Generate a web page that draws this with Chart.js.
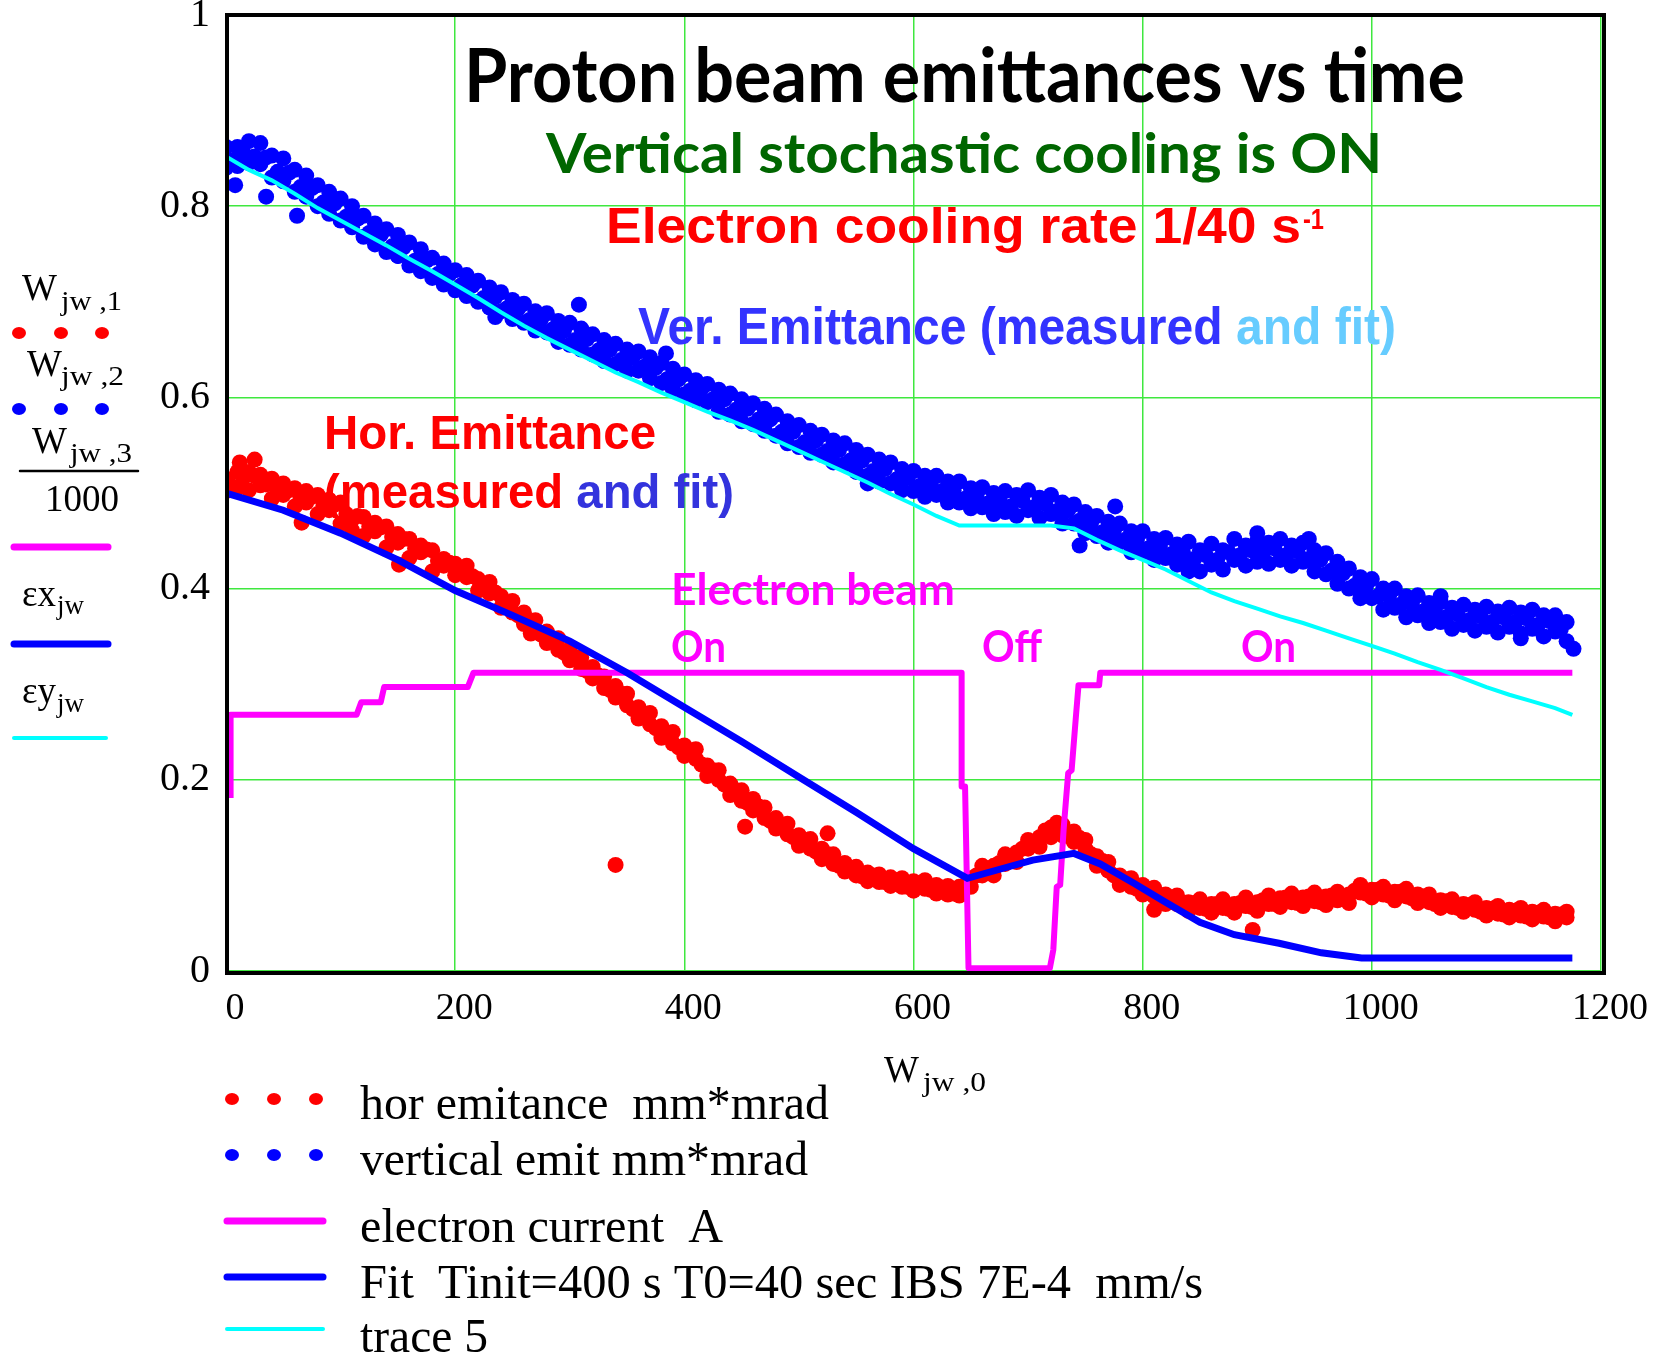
<!DOCTYPE html>
<html>
<head>
<meta charset="utf-8">
<title>Proton beam emittances vs time</title>
<script src="https://cdn.jsdelivr.net/npm/chart.js@4.4.1/dist/chart.umd.min.js"></script>
<style>
    html, body { margin: 0; padding: 0; background: #ffffff; }
    canvas { display: block; }
</style>
</head>
<body>
<canvas id="emittanceChart" width="1655" height="1356"></canvas>
<script>
// ======== Data (time in s, emittance in mm*mrad, current in A/1000) ========
const sampleTimes = [
    0, 10, 20, 30, 40, 50, 60, 70, 80, 90, 100, 110, 120, 130, 140, 150, 160, 170, 180, 190,
    200, 210, 220, 230, 240, 250, 260, 270, 280, 290, 300, 310, 320, 330, 340, 350, 360, 370, 380, 390,
    400, 410, 420, 430, 440, 450, 460, 470, 480, 490, 500, 510, 520, 530, 540, 550, 560, 570, 580, 590,
    600, 610, 620, 630, 640, 650, 660, 670, 680, 690, 700, 710, 720, 730, 740, 750, 760, 770, 780, 790,
    800, 810, 820, 830, 840, 850, 860, 870, 880, 890, 900, 910, 920, 930, 940, 950, 960, 970, 980, 990,
    1000, 1010, 1020, 1030, 1040, 1050, 1060, 1070, 1080, 1090, 1100, 1110, 1120, 1130, 1140, 1150, 1160, 1170
];
const midTimes = [
    5, 15, 25, 35, 45, 55, 65, 75, 85, 95, 105, 115, 125, 135, 145, 155, 165, 175, 185, 195,
    205, 215, 225, 235, 245, 255, 265, 275, 285, 295, 305, 315, 325, 335, 345, 355, 365, 375, 385, 395,
    405, 415, 425, 435, 445, 455, 465, 475, 485, 495, 505, 515, 525, 535, 545, 555, 565, 575, 585, 595,
    605, 615, 625, 635, 645, 655, 665, 675, 685, 695, 705, 715, 725, 735, 745, 755, 765, 775, 785, 795,
    805, 815, 825, 835, 845, 855, 865, 875, 885, 895, 905, 915, 925, 935, 945, 955, 965, 975, 985, 995,
    1005, 1015, 1025, 1035, 1045, 1055, 1065, 1075, 1085, 1095, 1105, 1115, 1125, 1135, 1145, 1155, 1165
];

// horizontal emittance, measured (two readings per sample time plus in-between readings)
const horEmit = [
    .515, .505, .522, .508, .515, .498, .505, .490, .498, .482, .490, .472, .475, .460, .465, .448, .452, .438, .440, .424,
    .426, .412, .410, .395, .392, .375, .375, .355, .355, .336, .337, .316, .318, .296, .298, .278, .276, .258, .256, .238,
    .236, .222, .215, .200, .196, .178, .180, .160, .160, .143, .142, .128, .128, .112, .113, .100, .103, .093, .098, .088,
    .094, .086, .090, .080, .088, .097, .100, .110, .112, .124, .128, .140, .150, .142, .146, .128, .120, .105, .100, .088,
    .090, .078, .080, .070, .072, .066, .070, .066, .070, .068, .072, .070, .076, .072, .077, .073, .078, .074, .080, .082,
    .085, .080, .083, .078, .080, .072, .074, .067, .070, .064, .066, .060, .064, .058, .062, .057, .060, .056
];
const horEmitSpread = [
    .502, .522, .503, .519, .494, .510, .486, .502, .478, .493, .468, .461, .455, .469, .443, .457, .432, .445, .418, .431,
    .414, .424, .398, .407, .380, .387, .363, .367, .343, .348, .325, .328, .306, .308, .286, .290, .264, .270, .244, .250,
    .225, .232, .204, .210, .184, .189, .168, .171, .149, .154, .131, .138, .117, .122, .104, .109, .094, .101, .089, .097,
    .084, .095, .081, .089, .079, .088, .110, .100, .122, .114, .137, .130, .140, .153, .135, .137, .110, .114, .090, .097,
    .080, .087, .070, .079, .063, .075, .061, .075, .061, .077, .063, .079, .067, .081, .068, .082, .069, .083, .071, .090,
    .077, .088, .074, .086, .071, .080, .066, .075, .062, .072, .058, .068, .056, .066, .054, .064, .052, .062
];
const horEmitMid = [
    .507, .516, .518, .509, .504, .503, .495, .496, .487, .488, .478, .476, .465, .464, .454, .452, .442, .441, .429, .427,
    .416, .413, .400, .396, .381, .372, .366, .352, .347, .333, .328, .314, .309, .294, .290, .274, .269, .254, .249, .234,
    .231, .216, .210, .195, .189, .176, .172, .157, .153, .140, .137, .125, .122, .110, .108, .099, .100, .093, .095, .088,
    .092, .085, .087, .081, .090, .100, .103, .113, .116, .128, .132, .147, .155, .141, .139, .122, .115, .100, .096, .086,
    .086, .076, .077, .068, .071, .065, .070, .065, .071, .067, .074, .070, .077, .071, .078, .072, .079, .075, .084, .081,
    .085, .079, .083, .076, .078, .070, .073, .066, .069, .062, .065, .059, .063, .057, .061, .056, .059
];
const horOutlierTimes = [12, 25, 66, 151, 266, 340, 453, 525, 810, 896];
const horOutliers = [.532, .535, .469, .425, .353, .111, .151, .144, .064, .043];

// vertical emittance, measured
const verEmit = [
    .840, .862, .845, .866, .830, .850, .815, .832, .800, .815, .785, .800, .768, .782, .752, .770, .738, .755, .725, .740,
    .712, .728, .700, .715, .690, .702, .678, .690, .668, .680, .655, .672, .645, .660, .635, .650, .628, .642, .615, .630,
    .603, .618, .595, .608, .582, .598, .572, .588, .560, .575, .548, .565, .540, .555, .530, .545, .518, .535, .510, .525,
    .502, .518, .498, .512, .490, .505, .485, .500, .480, .498, .482, .495, .478, .490, .468, .480, .455, .470, .448, .460,
    .438, .452, .432, .446, .428, .440, .425, .440, .430, .445, .428, .448, .430, .445, .428, .440, .415, .428, .400, .412,
    .390, .400, .380, .392, .372, .385, .365, .380, .362, .378, .360, .376, .360, .375, .358, .372, .355, .365
];
const verEmitSpread = [
    .862, .842, .868, .844, .853, .826, .838, .810, .822, .792, .808, .778, .790, .760, .776, .748, .762, .732, .746, .718,
    .733, .706, .722, .694, .710, .682, .698, .670, .688, .658, .678, .650, .666, .638, .656, .628, .648, .620, .636, .608,
    .624, .597, .614, .585, .604, .575, .594, .565, .582, .552, .571, .542, .561, .532, .552, .522, .540, .512, .532, .503,
    .523, .496, .518, .490, .512, .484, .506, .478, .502, .476, .503, .474, .498, .468, .488, .458, .476, .448, .468, .438,
    .460, .430, .453, .425, .449, .418, .447, .420, .452, .424, .450, .426, .452, .424, .448, .418, .437, .405, .421, .390,
    .410, .378, .400, .370, .393, .364, .386, .358, .383, .356, .381, .354, .380, .353, .378, .350, .372, .345
];
const verEmitMid = [
    .848, .856, .852, .851, .836, .835, .820, .819, .804, .803, .789, .787, .772, .770, .758, .757, .743, .743, .729, .729,
    .717, .717, .704, .705, .693, .693, .681, .682, .671, .670, .660, .661, .649, .650, .639, .642, .632, .631, .619, .619,
    .607, .609, .598, .598, .587, .588, .577, .577, .564, .564, .553, .555, .544, .545, .534, .534, .523, .525, .514, .516,
    .507, .510, .502, .503, .494, .497, .489, .492, .486, .492, .485, .489, .481, .482, .471, .469, .459, .461, .451, .451,
    .442, .444, .436, .439, .431, .435, .430, .438, .435, .440, .436, .442, .435, .439, .431, .430, .419, .416, .403, .403,
    .392, .392, .383, .384, .376, .377, .370, .373, .367, .371, .365, .370, .365, .369, .362, .366, .358
];
const verOutlierTimes = [8, 35, 62, 150, 235, 308, 384, 470, 560, 745, 776, 840, 900, 945, 1060, 1130, 1176];
const verOutliers = [.822, .810, .790, .748, .684, .697, .646, .566, .510, .445, .486, .418, .458, .452, .392, .348, .337];

// fits and electron current
const fitHorTimes = [0, 50, 100, 150, 200, 250, 300, 350, 400, 450, 500, 550, 600, 647, 680, 704, 740, 763, 792, 820, 850, 880, 919, 956, 991, 1175];
const fitHor = [.500, .482, .458, .430, .398, .372, .345, .312, .276, .240, .203, .166, .128, .097, .108, .116, .123, .112, .092, .072, .051, .038, .029, .019, .0135, .0135];

const fitVerTimes = [
    0, 20, 40, 60, 80, 100, 120, 140, 160, 180, 200, 220, 240, 260, 280, 300, 320, 340, 360, 380,
    400, 420, 440, 460, 480, 500, 520, 540, 560, 580, 600, 620, 640, 660, 680, 700, 720, 740, 760, 780,
    800, 820, 840, 860, 880, 900, 920, 940, 960, 980, 1000, 1020, 1040, 1060, 1080, 1100, 1120, 1140, 1160, 1175
];
const fitVer = [
    .852, .838, .827, .813, .798, .785, .772, .759, .745, .732, .718, .704, .689, .675, .662, .650, .638, .626, .616, .605,
    .595, .585, .576, .566, .555, .544, .533, .522, .511, .499, .488, .476, .466, .466, .466, .466, .466, .463, .451, .440,
    .430, .420, .408, .396, .387, .379, .371, .364, .356, .348, .340, .332, .323, .315, .306, .297, .289, .282, .275, .268
];

const currentTimes = [4, 4, 114, 118, 135, 138, 211, 216, 642, 642, 645, 648, 719, 722, 725, 728, 731, 735, 738, 742, 744, 762, 763, 1175];
const electronCurrent = [.181, .268, .268, .281, .281, .297, .297, .312, .312, .193, .193, .003, .003, .022, .088, .090, .148, .207, .210, .270, .299, .299, .312, .312];

const xTickLabels = ['0', '200', '400', '600', '800', '1000', '1200'];
const yTickLabels = ['0', '0.2', '0.4', '0.6', '0.8', '1'];

// ======== Helpers ========
const toPoints = (xs, ys) => xs.map((x, i) => ({ x: x, y: ys[i] }));

// draws coloured text runs squeezed/stretched to a target width
function drawRuns(ctx, runs, x, y, width, font) {
    ctx.font = font;
    const total = runs.reduce((sum, r) => sum + ctx.measureText(r[0]).width, 0);
    const k = width ? width / total : 1;
    ctx.save();
    ctx.translate(x, y);
    ctx.scale(k, 1);
    let cx = 0;
    runs.forEach(([text, color]) => {
        ctx.fillStyle = color;
        ctx.fillText(text, cx, 0);
        cx += ctx.measureText(text).width;
    });
    ctx.restore();
}

function dots(ctx, color, xs, y) {
    ctx.fillStyle = color;
    xs.forEach(x => {
        ctx.beginPath();
        ctx.ellipse(x, y, 7, 6, 0, 0, Math.PI * 2);
        ctx.fill();
    });
}

function bar(ctx, color, x1, x2, y, w) {
    ctx.strokeStyle = color;
    ctx.lineWidth = w;
    ctx.lineCap = 'round';
    ctx.beginPath();
    ctx.moveTo(x1, y);
    ctx.lineTo(x2, y);
    ctx.stroke();
}

// ======== Frame, annotations and Mathcad style legends ========
const annotations = {
    id: 'annotations',
    afterDraw(chart) {
        const ctx = chart.ctx;
        const a = chart.chartArea;
        ctx.save();
        ctx.textAlign = 'left';
        ctx.textBaseline = 'alphabetic';

        // plot frame
        ctx.strokeStyle = '#000000';
        ctx.lineWidth = 4;
        ctx.strokeRect(a.left + 1, a.top, a.right - a.left + 2, a.bottom - a.top + 2);

        // titles
        const calibri = 'Lato, "Open Sans", sans-serif';
        const arial = '"Liberation Sans", Arial, sans-serif';
        drawRuns(ctx, [['Proton beam emittances vs time', '#000000']], 464, 102, 1001, `bold 74px ${calibri}`);
        drawRuns(ctx, [['Vertical stochastic cooling is ON', '#006600']], 546, 173, 836, `bold 55px ${calibri}`);
        drawRuns(ctx, [['Electron cooling rate 1/40 s', '#ff0000']], 606, 243, 695, `bold 50px ${arial}`);
        drawRuns(ctx, [['-1', '#ff0000']], 1303, 229, 21, `bold 29px ${arial}`);

        drawRuns(ctx, [['Ver. Emittance (measured ', '#3333ff'], ['and fit)', '#66ccff']], 638, 344, 758, `bold 52px ${arial}`);
        drawRuns(ctx, [['Hor. Emittance', '#ff0000']], 324, 449, 332, `bold 48px ${arial}`);
        drawRuns(ctx, [['(measured ', '#ff0000'], ['and fit)', '#3333dd']], 324, 508, 410, `bold 48px ${arial}`);

        drawRuns(ctx, [['Electron beam', '#ff00ff']], 671, 605, 284, `bold 43px ${calibri}`);
        drawRuns(ctx, [['On', '#ff00ff']], 671, 662, 55, `bold 43px ${calibri}`);
        drawRuns(ctx, [['Off', '#ff00ff']], 982, 662, 60, `bold 43px ${calibri}`);
        drawRuns(ctx, [['On', '#ff00ff']], 1241, 662, 55, `bold 43px ${calibri}`);

        // left legend (Mathcad trace names)
        const serif = '"Liberation Serif", "Times New Roman", serif';
        const big = `37px ${serif}`;
        const small = `27px ${serif}`;
        drawRuns(ctx, [['W', '#000']], 22, 300, 0, big);
        drawRuns(ctx, [['jw ,1', '#000']], 61, 310, 61, small);
        dots(ctx, '#ff0000', [19, 61, 102], 333);
        drawRuns(ctx, [['W', '#000']], 27, 376, 0, big);
        drawRuns(ctx, [['jw ,2', '#000']], 61, 385, 63, small);
        dots(ctx, '#0000ff', [19, 61, 102], 409);
        drawRuns(ctx, [['W', '#000']], 32, 453, 0, big);
        drawRuns(ctx, [['jw ,3', '#000']], 70, 462, 62, small);
        bar(ctx, '#000000', 20, 138, 471, 2.5);
        drawRuns(ctx, [['1000', '#000']], 45, 511, 0, big);
        bar(ctx, '#ff00ff', 14, 108, 547, 7);
        drawRuns(ctx, [['\u03b5x', '#000']], 22, 606, 0, big);
        drawRuns(ctx, [['jw', '#000']], 57, 614, 0, small);
        bar(ctx, '#0000ff', 14, 108, 644, 7);
        drawRuns(ctx, [['\u03b5y', '#000']], 22, 703, 0, big);
        drawRuns(ctx, [['jw', '#000']], 57, 712, 0, small);
        bar(ctx, '#00ffff', 14, 106, 738, 4);

        // x axis name
        drawRuns(ctx, [['W', '#000']], 884, 1082, 0, big);
        drawRuns(ctx, [['jw ,0', '#000']], 923, 1091, 63, small);

        // bottom legend
        const legendFont = `48px ${serif}`;
        dots(ctx, '#ff0000', [232, 274, 316], 1099);
        drawRuns(ctx, [['hor emitance  mm*mrad', '#000']], 360, 1119, 469, legendFont);
        dots(ctx, '#0000ff', [232, 274, 316], 1155);
        drawRuns(ctx, [['vertical emit mm*mrad', '#000']], 360, 1175, 448, legendFont);
        bar(ctx, '#ff00ff', 227, 323, 1221, 7);
        drawRuns(ctx, [['electron current  A', '#000']], 360, 1242, 363, legendFont);
        bar(ctx, '#0000ff', 227, 323, 1277, 7);
        drawRuns(ctx, [['Fit  Tinit=400 s T0=40 sec IBS 7E-4  mm/s', '#000']], 360, 1298, 843, legendFont);
        bar(ctx, '#00ffff', 227, 323, 1329, 4);
        drawRuns(ctx, [['trace 5', '#000']], 360, 1352, 128, legendFont);

        ctx.restore();
    }
};

// ======== Chart ========
const canvas = document.getElementById('emittanceChart');
new Chart(canvas.getContext('2d'), {
    type: 'scatter',
    data: {
        datasets: [
            {
                label: 'trace 5',
                data: toPoints(fitVerTimes, fitVer),
                showLine: true,
                borderColor: '#00ffff',
                borderWidth: 4,
                pointRadius: 0,
                order: 0,
            },
            {
                label: 'Fit  Tinit=400 s T0=40 sec IBS 7E-4  mm/s',
                data: toPoints(fitHorTimes, fitHor),
                showLine: true,
                borderColor: '#0000ff',
                borderWidth: 7,
                pointRadius: 0,
                order: 1,
            },
            {
                label: 'electron current  A',
                data: toPoints(currentTimes, electronCurrent),
                showLine: true,
                borderColor: '#ff00ff',
                borderWidth: 6,
                borderJoinStyle: 'round',
                pointRadius: 0,
                order: 2,
            },
            {
                label: 'vertical emit mm*mrad',
                data: toPoints(sampleTimes, verEmit)
                    .concat(toPoints(sampleTimes, verEmitSpread))
                    .concat(toPoints(midTimes, verEmitMid))
                    .concat(toPoints(verOutlierTimes, verOutliers)),
                backgroundColor: '#0000ff',
                borderWidth: 0,
                pointRadius: 8,
                order: 3,
            },
            {
                label: 'hor emitance  mm*mrad',
                data: toPoints(sampleTimes, horEmit)
                    .concat(toPoints(sampleTimes, horEmitSpread))
                    .concat(toPoints(midTimes, horEmitMid))
                    .concat(toPoints(horOutlierTimes, horOutliers)),
                backgroundColor: '#ff0000',
                borderWidth: 0,
                pointRadius: 8,
                order: 4,
            },
        ],
    },
    options: {
        responsive: false,
        animation: false,
        events: [],
        layout: { padding: { left: 0, top: 15, right: 54, bottom: 325 } },
        plugins: {
            legend: { display: false },
            tooltip: { enabled: false },
        },
        scales: {
            x: {
                type: 'linear',
                min: 0,
                max: 1200,
                afterFit: s => { s.height = 60; s.paddingLeft = 0; s.paddingRight = 0; },
                afterBuildTicks: s => { s.ticks = xTickLabels.map(l => ({ value: Number(l) })); },
                ticks: {
                    callback: (v, i) => xTickLabels[i],
                    color: '#000000',
                    font: { family: '"Liberation Serif", "Times New Roman", serif', size: 38 },
                    padding: 15,
                    labelOffset: 9,
                    maxRotation: 0,
                },
                grid: { color: '#3fe83f', lineWidth: 1.5, drawTicks: false },
                border: { display: false },
            },
            y: {
                type: 'linear',
                min: 0,
                max: 1,
                afterFit: s => { s.width = 226; s.paddingTop = 0; s.paddingBottom = 0; },
                afterBuildTicks: s => { s.ticks = yTickLabels.map(l => ({ value: Number(l) })); },
                ticks: {
                    callback: (v, i) => yTickLabels[i],
                    color: '#000000',
                    font: { family: '"Liberation Serif", "Times New Roman", serif', size: 40 },
                    padding: 16,
                },
                grid: { color: '#3fe83f', lineWidth: 1.5, drawTicks: false },
                border: { display: false },
            },
        },
    },
    plugins: [annotations],
});
</script>
</body>
</html>
